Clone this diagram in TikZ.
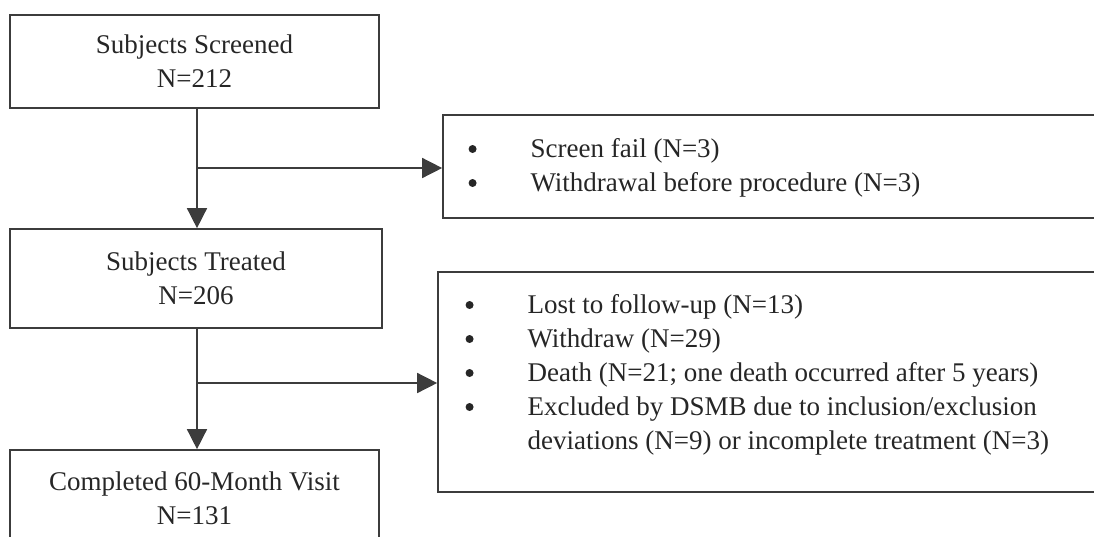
\documentclass[tikz,border=0pt]{standalone}
\usepackage{fontspec}
\setmainfont{Liberation Serif}
\usetikzlibrary{arrows.meta}
\definecolor{ink}{HTML}{262626}
\definecolor{rule}{HTML}{3C3C3C}
\newcommand{\listdot}{\tikz[baseline=-6pt]\fill[ink] (0,0) circle (3pt);}
\begin{document}
\begin{tikzpicture}[x=0.75pt,y=-0.75pt,
  txtfont/.style={font=\fontsize{20.25pt}{25.5pt}\selectfont, text=ink},
  box/.style={draw=rule, line width=1.25pt, rectangle, inner sep=0pt, txtfont, align=center},
  listtxt/.style={txtfont, inner sep=0pt, anchor=west},
  conn/.style={draw=rule, line width=1.15pt},
  arr/.style={conn, -{Triangle[width=15pt,length=15pt]}}]
\useasboundingbox (0,0) rectangle (1094,536);
\clip (0,0) rectangle (1094,536);

% left column boxes
\node[box, minimum width=276.75pt, minimum height=69.75pt] (s1) at (194.5,61.5) {Subjects Screened\\N=212};
\node[box, minimum width=279pt, minimum height=74.25pt] (s3) at (196,278.5) {Subjects Treated\\N=206};
\node[box, minimum width=276.75pt, minimum height=72pt] (s5) at (194.5,498) {Completed 60-Month Visit\\N=131};

% right column boxes
\node[box, minimum width=492.75pt, minimum height=77.25pt] (b2) at (771.5,166.5) {};
\node[box, minimum width=496.5pt, minimum height=165pt] (b4) at (769,382) {};

\node[listtxt] (t2) at (468.3,167.2) {\begin{tabular}{@{}p{46.5pt}@{}l@{}}
\listdot & Screen fail (N=3)\\
\listdot & Withdrawal before procedure (N=3)
\end{tabular}};
\node[listtxt] (t4) at (465.3,374.2) {\begin{tabular}{@{}p{46.5pt}@{}l@{}}
\listdot & Lost to follow-up (N=13)\\
\listdot & Withdraw (N=29)\\
\listdot & Death (N=21; one death occurred after 5 years)\\
\listdot & Excluded by DSMB due to inclusion/exclusion\\
 & deviations (N=9) or incomplete treatment (N=3)
\end{tabular}};

% junctions on the spine
\coordinate (j1) at (197,168);
\coordinate (j2) at (197,383);

% connectors
\draw[arr] (s1.south -| j1) -- (s3.north -| j1);
\draw[arr] (j1) -- (j1 -| b2.west);
\draw[arr] (s3.south -| j2) -- (s5.north -| j2);
\draw[arr] (j2) -- (j2 -| b4.west);
\end{tikzpicture}
\end{document}
